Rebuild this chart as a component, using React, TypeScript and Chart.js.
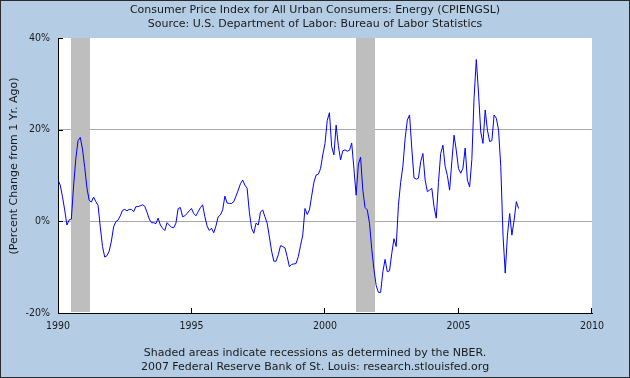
import React, { useEffect, useRef } from 'react';
import { Chart, registerables } from 'chart.js';

Chart.register(...registerables);

// Monthly year-over-year % change, starting January 1990
const startYear = 1990;
const energyYoY: number[] = [
  // 1990
  9.0, 7.9, 5.4, 2.5, -0.8, 0.3, 0.5, 7.7, 13.6, 17.6, 18.3, 15.8,
  // 1991
  11.8, 7.3, 4.6, 4.2, 5.3, 4.3, 3.5, -1.2, -5.5, -7.8, -7.5, -6.5,
  // 1992
  -4.3, -1.2, -0.1, 0.3, 1.2, 2.4, 2.6, 2.3, 2.6, 2.6, 2.1, 3.2,
  // 1993
  3.2, 3.4, 3.6, 3.3, 2.0, 0.5, -0.3, -0.3, -0.5, 0.7, -0.8, -1.5,
  // 1994
  -2.0, -0.3, -0.8, -1.3, -1.4, -0.4, 2.8, 3.0, 1.0, 1.2, 1.7, 2.3,
  // 1995
  2.8, 1.7, 1.2, 2.1, 3.0, 3.6, 1.0, -1.0, -2.0, -1.5, -2.5, -1.0,
  // 1996
  1.0, 1.4, 2.5, 5.5, 4.0, 3.9, 3.9, 4.3, 5.5, 6.8, 8.2, 9.0,
  // 1997
  7.9, 7.2, 2.0, -1.5, -2.6, -0.4, -0.8, 2.0, 2.5, 1.0, -0.4, -3.4,
  // 1998
  -6.5, -8.7, -8.7, -7.3, -5.3, -5.5, -5.8, -7.7, -9.9, -9.4, -9.3, -9.2,
  // 1999
  -7.7, -5.3, -3.0, 2.8, 1.5, 2.5, 5.5, 8.5, 10.1, 10.3, 11.5, 14.5,
  // 2000
  17.0, 22.0, 23.7, 16.3, 14.5, 21.0, 16.5, 13.4, 15.4, 15.6, 15.3, 15.5,
  // 2001
  17.1, 11.5, 5.7, 12.5, 14.0, 6.8, 3.0, 2.5, -0.4, -6.0, -10.5, -14.0,
  // 2002
  -15.5, -15.5, -11.0, -8.3, -11.0, -10.8, -7.0, -3.8, -5.5, 3.5, 8.5, 12.0,
  // 2003
  18.0, 22.1, 23.2, 16.0, 9.5, 9.2, 9.4, 13.0, 14.8, 9.0, 6.5, 6.8,
  // 2004
  7.2, 3.2, 0.7, 8.5, 14.8, 16.6, 12.0, 10.0, 6.8, 13.0, 18.8, 15.5,
  // 2005
  11.5, 10.5, 11.6, 16.0, 9.0, 7.5, 13.5, 27.0, 35.3, 28.0, 19.5, 17.0,
  // 2006
  24.3, 19.9, 17.4, 17.6, 23.2, 22.5, 19.9, 12.0, -3.0, -11.3, -3.0, 1.7,
  // 2007
  -3.0, 0.3, 4.3, 2.8,
];

const recessionStarts = [1990.5, 2001.16];
const recessionEnds = [1991.2, 2001.88];

const yTickValues = [-20, 0, 20, 40];
const yGridValues = [0, 20];
const xTickValues = [1990, 1995, 2000, 2005, 2010];

const titleLines = [
  'Consumer Price Index for All Urban Consumers: Energy (CPIENGSL)',
  'Source: U.S. Department of Labor: Bureau of Labor Statistics',
];
const footerLines = [
  'Shaded areas indicate recessions as determined by the NBER.',
  '2007 Federal Reserve Bank of St. Louis: research.stlouisfed.org',
];
const yAxisTitle = '(Percent Change from 1 Yr. Ago)';

const TEXT_FONT = "'DejaVu Sans', sans-serif";
const TICK_FONT = "'DejaVu Sans Condensed', 'DejaVu Sans', sans-serif";
const BG = '#B4CDE5';
const TEXT = '#1a1a1a';

const fredPlugin = {
  id: 'fredDecor',
  beforeDraw(chart: any) {
    const { ctx, width, height, chartArea: a } = chart;
    ctx.save();
    ctx.fillStyle = BG;
    ctx.fillRect(0, 0, width, height);
    ctx.strokeStyle = '#2a2a2a';
    ctx.lineWidth = 1;
    ctx.strokeRect(0.5, 0.5, width - 1, height - 1);
    ctx.fillStyle = '#ffffff';
    ctx.fillRect(a.left, a.top, a.right - a.left, a.bottom - a.top);
    ctx.restore();
  },
  beforeDatasetsDraw(chart: any) {
    const { ctx, chartArea: a } = chart;
    const xs = chart.scales.x;
    ctx.save();
    ctx.fillStyle = '#BEBEBE';
    recessionStarts.forEach((s, i) => {
      const x0 = Math.round(xs.getPixelForValue(s));
      const x1 = Math.round(xs.getPixelForValue(recessionEnds[i]));
      ctx.fillRect(x0, a.top, x1 - x0, a.bottom - a.top - 1);
    });
    ctx.restore();
  },
  afterDraw(chart: any) {
    const { ctx, chartArea: a, width } = chart;
    const xs = chart.scales.x;
    const ys = chart.scales.y;
    ctx.save();
    ctx.strokeStyle = '#000';
    ctx.lineWidth = 1;
    ctx.beginPath();
    yTickValues.forEach((v) => {
      if (v === ys.min) return;
      const y = Math.round(ys.getPixelForValue(v)) + 0.5;
      ctx.moveTo(a.left, y);
      ctx.lineTo(a.left + 5, y);
    });
    xTickValues.forEach((v) => {
      if (v === xs.min) return;
      const x = Math.round(xs.getPixelForValue(v)) - 0.5;
      ctx.moveTo(x, a.bottom);
      ctx.lineTo(x, a.bottom - 5);
    });
    ctx.stroke();

    ctx.fillStyle = TEXT;
    ctx.font = `11px ${TEXT_FONT}`;
    ctx.textAlign = 'center';
    ctx.textBaseline = 'middle';
    const cx = width / 2;
    ctx.fillText(titleLines[0], cx, 10);
    ctx.fillText(titleLines[1], cx, 24);
    ctx.fillText(footerLines[0], cx, 353);
    ctx.fillText(footerLines[1], cx, 367);

    ctx.translate(14, 166);
    ctx.rotate(-Math.PI / 2);
    ctx.fillText(yAxisTitle, 0, 0);
    ctx.restore();
  },
};

export default function App() {
  const canvasRef = useRef<HTMLCanvasElement | null>(null);

  useEffect(() => {
    if (!canvasRef.current) return;
    const points = energyYoY.map((v, i) => ({ x: startYear + i / 12, y: v }));
    const chart = new Chart(canvasRef.current, {
      type: 'line',
      data: {
        datasets: [
          {
            data: points,
            borderColor: '#0000FF',
            borderWidth: 1,
            pointRadius: 0,
            tension: 0,
            fill: false,
          },
        ],
      },
      options: {
        animation: false,
        responsive: false,
        devicePixelRatio: 1,
        layout: { padding: { left: 0, top: 38, right: 38, bottom: 0 } },
        plugins: {
          legend: { display: false },
          tooltip: { enabled: false },
          title: { display: false },
        },
        scales: {
          x: {
            type: 'linear',
            min: 1990,
            max: 2010,
            afterFit: (s: any) => {
              s.height = 65;
            },
            afterBuildTicks: (s: any) => {
              s.ticks = xTickValues.map((v) => ({ value: v }));
            },
            grid: { display: true, color: 'rgba(0,0,0,0)', drawTicks: false },
            border: { display: true, color: '#000', width: 1 },
            ticks: {
              callback: (v: any) => String(v),
              font: { family: TICK_FONT, size: 10.5 },
              color: TEXT,
              padding: 7,
              maxRotation: 0,
              autoSkip: false,
            },
          },
          y: {
            type: 'linear',
            min: -20,
            max: 40,
            afterFit: (s: any) => {
              s.width = 58;
            },
            afterBuildTicks: (s: any) => {
              s.ticks = yTickValues.map((v) => ({ value: v }));
            },
            grid: {
              drawTicks: false,
              lineWidth: 1,
              color: (c: any) =>
                c.tick && yGridValues.includes(c.tick.value) ? '#A8A8A8' : 'rgba(0,0,0,0)',
            },
            border: { display: true, color: '#000', width: 1 },
            ticks: {
              callback: (v: any) => `${v}%`,
              font: { family: TICK_FONT, size: 10.5 },
              color: TEXT,
              padding: 8,
              autoSkip: false,
            },
          },
        },
      },
      plugins: [fredPlugin],
    });
    return () => chart.destroy();
  }, []);

  return (
    <div style={{ position: 'fixed', left: 0, top: 0, width: 630, height: 378 }}>
      <canvas ref={canvasRef} width={630} height={378} style={{ display: 'block' }} />
    </div>
  );
}
